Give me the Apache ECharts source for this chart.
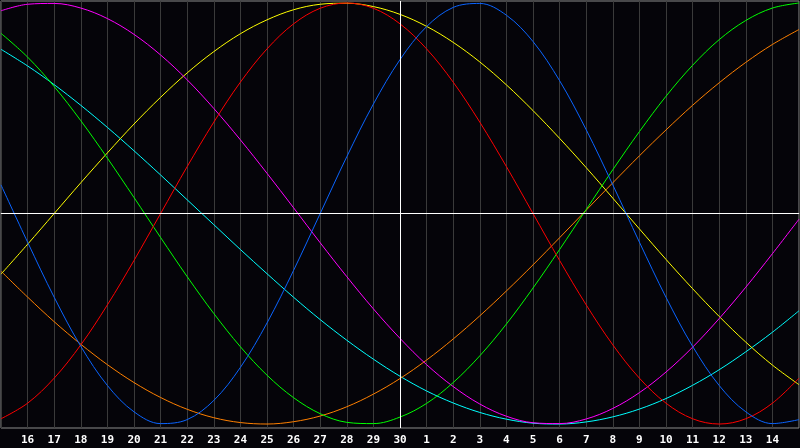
<!DOCTYPE html>
<html>
<head>
<meta charset="utf-8">
<script src="https://cdn.jsdelivr.net/npm/echarts@6/dist/echarts.min.js"></script>
<style>
html,body{margin:0;padding:0;background:#050409;}
#chart{width:800px;height:448px;}
</style>
</head>
<body>
<div id="chart"></div>
<script>
// Day labels (x positions: one per day, from the 15th to the 15th)
const dayLabels = ['15','16','17','18','19','20','21','22','23','24','25','26','27','28','29','30',
  '1','2','3','4','5','6','7','8','9','10','11','12','13','14','15'];

// Cycle values, one per day (range -1..1)
const physical = [0.136,-0.136,-0.398,-0.631,-0.817,-0.942,-0.998,-0.979,-0.888,-0.731,-0.520,-0.270,0.000,0.270,0.520,0.731,0.888,0.979,0.998,0.942,0.817,0.631,0.398,0.136,-0.136,-0.398,-0.631,-0.817,-0.942,-0.998,-0.979];
const emotional = [-0.975,-0.901,-0.782,-0.624,-0.434,-0.223,0.000,0.223,0.434,0.624,0.782,0.901,0.975,1.000,0.975,0.901,0.782,0.624,0.434,0.223,0.000,-0.223,-0.434,-0.624,-0.782,-0.901,-0.975,-1.000,-0.975,-0.901,-0.782];
const intellectual = [0.856,0.743,0.603,0.441,0.263,0.076,-0.114,-0.300,-0.475,-0.633,-0.768,-0.875,-0.951,-0.992,-0.998,-0.967,-0.902,-0.803,-0.676,-0.525,-0.354,-0.171,0.019,0.208,0.389,0.557,0.704,0.826,0.917,0.976,1.000];
const intuitive = [0.963,0.994,0.998,0.976,0.926,0.851,0.753,0.635,0.499,0.350,0.191,0.027,-0.139,-0.300,-0.453,-0.593,-0.718,-0.822,-0.905,-0.963,-0.994,-0.998,-0.976,-0.926,-0.851,-0.753,-0.635,-0.499,-0.350,-0.191,-0.027];
const aesthetic = [-0.288,-0.146,0.000,0.146,0.288,0.425,0.552,0.668,0.769,0.854,0.920,0.968,0.994,0.999,0.983,0.946,0.889,0.813,0.720,0.611,0.489,0.357,0.218,0.073,-0.073,-0.218,-0.357,-0.489,-0.611,-0.720,-0.813];
const awareness = [-0.274,-0.397,-0.514,-0.621,-0.718,-0.803,-0.874,-0.930,-0.970,-0.993,-1.000,-0.989,-0.962,-0.918,-0.858,-0.784,-0.696,-0.596,-0.486,-0.368,-0.244,-0.115,0.016,0.146,0.274,0.397,0.514,0.621,0.718,0.803,0.874];
const spiritual = [0.780,0.701,0.612,0.514,0.409,0.298,0.183,0.065,-0.053,-0.171,-0.286,-0.398,-0.504,-0.602,-0.692,-0.773,-0.843,-0.900,-0.945,-0.977,-0.996,-1.000,-0.990,-0.966,-0.929,-0.879,-0.816,-0.742,-0.657,-0.564,-0.462];

const todayIndex = 15;

const seriesDefs = [
  {name:'Spiritual', data:spiritual, color:'#00ffff'},
  {name:'Awareness', data:awareness, color:'#ff8000'},
  {name:'Aesthetic', data:aesthetic, color:'#ffff00'},
  {name:'Intuitive', data:intuitive, color:'#ff00ff'},
  {name:'Intellectual', data:intellectual, color:'#00ff00'},
  {name:'Emotional', data:emotional, color:'#ff0000'},
  {name:'Physical', data:physical, color:'#0a64ff'}
];

const chart = echarts.init(document.getElementById('chart'), null, {renderer:'canvas'});

const series = seriesDefs.map(s => ({
  name: s.name, type: 'line', data: s.data, smooth: 0.35,
  symbol: 'none', silent: true,
  lineStyle: {color: s.color, width: 1},
  z: 3
}));
series.push({
  type: 'line', data: [], silent: true, z: 2,
  markLine: {
    silent: true, symbol: ['none','none'], label: {show:false},
    lineStyle: {color:'#ffffff', width:1, type:'solid'},
    data: [{xAxis: todayIndex}, {yAxis: 0}]
  }
});

chart.setOption({
  animation: false,
  backgroundColor: '#050409',
  grid: {left: 1, right: 1, top: 1, bottom: 20, show: true, borderColor: '#8c8c8c', borderWidth: 1, backgroundColor: '#050409'},
  xAxis: {
    type: 'category', data: dayLabels, boundaryGap: false,
    axisLine: {show: true, lineStyle: {color:'#8c8c8c', width: 1}},
    axisTick: {show: false},
    axisLabel: {
      color: '#ffffff', fontWeight: 'bold', fontFamily: 'DejaVu Sans Mono', fontSize: 11,
      margin: 7,
      interval: function(i){ return i > 0 && i < dayLabels.length - 1; }
    },
    splitLine: {show: true, interval: 0, lineStyle: {color: '#3a3a3a', width: 1}}
  },
  yAxis: {
    type: 'value', min: -1.0189, max: 1.0095, show: false,
    splitLine: {show: false}
  },
  series: series
});
</script>
</body>
</html>
